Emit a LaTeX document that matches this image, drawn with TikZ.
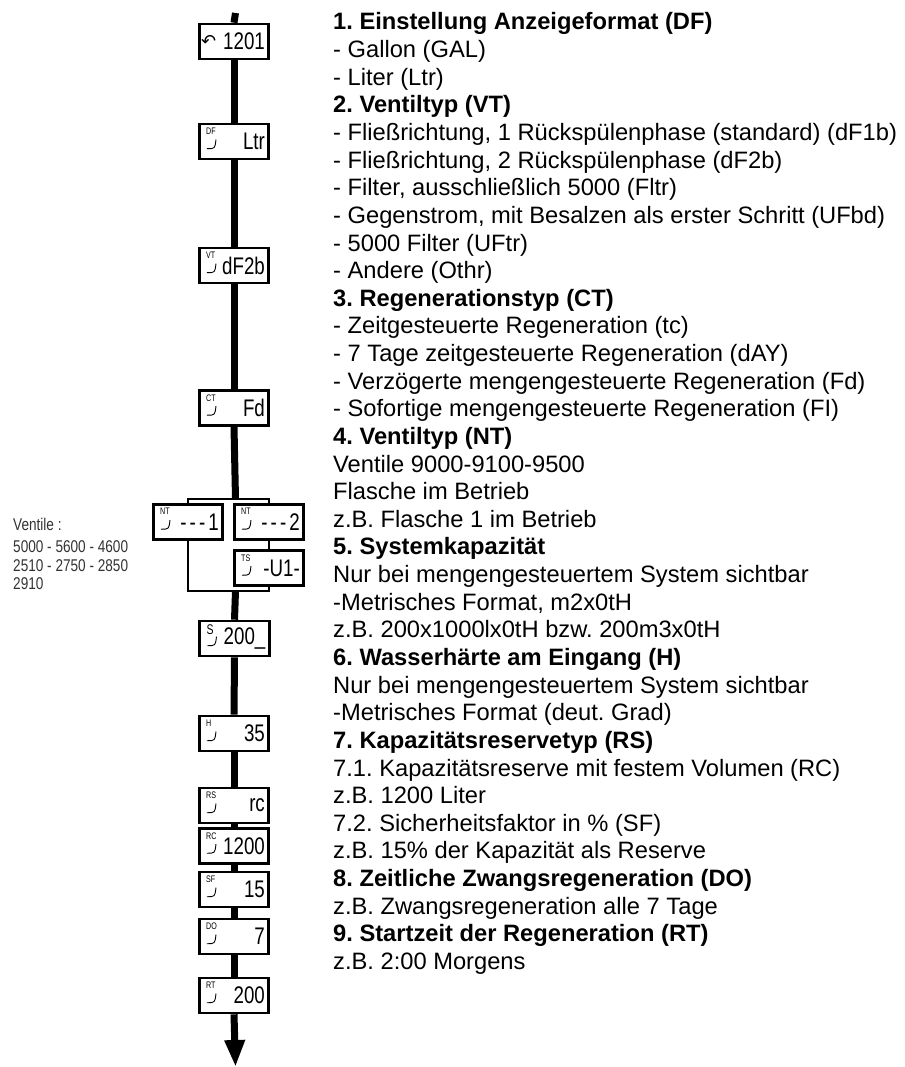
\documentclass[tikz,border=0pt]{standalone}
\usepackage{fontspec}
\usepackage{graphicx}
\setmainfont{Liberation Sans}
\newfontfamily\dejavu{DejaVu Sans}
\usetikzlibrary{arrows.meta}
\frenchspacing
\newcommand\lcd[5]{%
  \node[lcdbox] (#1) at (#2,#3) {};
  \node[lcdlab, anchor=north west] (#1l) at ([shift={(8,5)}]#1.north west) {\scalebox{0.75}[1]{#4}};
  \node[lcdval, anchor=east] (#1v) at ([xshift=-5pt]#1.east) {\scalebox{0.78}[1]{#5}};
  \draw[hookline] ([shift={(18,17)}]#1.north west) .. controls ([shift={(17,26)}]#1.north west) .. ([shift={(9,26)}]#1.north west);
}
\begin{document}
\begin{tikzpicture}[x=1pt,y=-1pt,
  trunk/.style={line width=7pt},
  brk/.style={line width=2.6pt},
  lcdbox/.style={draw, line width=2.6pt, fill=white, minimum width=69.5pt, minimum height=35pt, inner sep=0pt},
  lcdlab/.style={font=\fontsize{9.5}{9.5}\selectfont, inner sep=0pt},
  lcdval/.style={font=\fontsize{24}{24}\selectfont, inner sep=0pt},
  hookline/.style={line width=0.9pt},
  txt/.style={anchor=base west, inner sep=0pt, font=\fontsize{23.7}{27}\selectfont},
  vtxt/.style={anchor=base west, inner sep=0pt, text=black!80, font=\fontsize{17}{17}\selectfont}
  ]
\fill[white] (0,0) rectangle (904,1067);
\useasboundingbox (0,0) rectangle (904,1067);

% ---- displays ----
\node[lcdbox] (b1) at (234,41.5) {};
\node[anchor=west, inner sep=0pt, font=\dejavu\fontsize{18}{18}\selectfont] (b1l) at ([xshift=3pt]b1.west) {↶};
\node[lcdval, anchor=east] (b1v) at ([xshift=-5pt]b1.east) {\scalebox{0.78}[1]{1201}};

\lcd{b2}{234}{141.5}{DF}{Ltr}
\lcd{b3}{234}{265.5}{VT}{dF2b}
\lcd{b4}{234}{408}{CT}{Fd}
\lcd{nt1}{188}{522}{NT}{-\,-\,-\,1}
\lcd{nt2}{269}{522}{NT}{-\,-\,-\,2}
\lcd{ts}{269}{568}{TS}{-U1-}
\lcd{s}{234.5}{638.5}{\fontsize{14}{14}\selectfont S}{200\_}
\lcd{h}{234}{733.5}{H}{35}
\lcd{rs}{234}{805.5}{RS}{rc}
\lcd{rc}{234}{846}{RC}{1200}
\lcd{sf}{234}{889.5}{SF}{15}
\lcd{do}{234}{936.5}{DO}{7}
\lcd{rt}{234}{995.5}{RT}{200}

% ---- connectors ----
\coordinate (top) at (235.5,13);
\coordinate (split) at (235.5,499);
\coordinate (splitL) at (188,499);
\coordinate (splitR) at (269,499);
\coordinate (join) at (235.5,591);
\coordinate (joinL) at (188,591);
\coordinate (joinR) at (269,591);
\coordinate (end) at (235.5,1067);

\draw[trunk] (top) -- (b1.north);
\draw[trunk] (b1.south) -- (b2.north);
\draw[trunk] (b2.south) -- (b3.north);
\draw[trunk] (b3.south) -- (b4.north);
\draw[trunk] (b4.south) -- (split);
\draw[brk] (nt1.north) -- (splitL) -- (splitR) -- (nt2.north);
\draw[brk] (nt2.south) -- (ts.north);
\draw[brk] (nt1.south) -- (joinL) -- (joinR) -- (ts.south);
\draw[trunk] (join) -- (s.north);
\draw[trunk] (s.south) -- (h.north);
\draw[trunk] (h.south) -- (rs.north);
\draw[trunk] (rs.south) -- (rc.north);
\draw[trunk] (rc.south) -- (sf.north);
\draw[trunk] (sf.south) -- (do.north);
\draw[trunk] (do.south) -- (rt.north);
\draw[trunk, -{Triangle[width=19pt,length=27pt]}] (rt.south) -- (end);

% ---- left note ----
\node[vtxt] (v1) at (13,530) {\scalebox{0.8}[1]{Ventile :}};
\node[vtxt] (v2) at (13,552) {\scalebox{0.8}[1]{5000 - 5600 - 4600}};
\node[vtxt] (v3) at (13,571) {\scalebox{0.8}[1]{2510 - 2750 - 2850}};
\node[vtxt] (v4) at (13,589) {\scalebox{0.8}[1]{2910}};

% ---- right text ----
\foreach \t [count=\i] in {
 {\textbf{1. Einstellung Anzeigeformat (DF)}},
 {- Gallon (GAL)},
 {- Liter (Ltr)},
 {\textbf{2. Ventiltyp (VT)}},
 {- Fließrichtung, 1 Rückspülenphase (standard) (dF1b)},
 {- Fließrichtung, 2 Rückspülenphase (dF2b)},
 {- Filter, ausschließlich 5000 (Fltr)},
 {- Gegenstrom, mit Besalzen als erster Schritt (UFbd)},
 {- 5000 Filter (UFtr)},
 {- Andere (Othr)},
 {\textbf{3. Regenerationstyp (CT)}},
 {- Zeitgesteuerte Regeneration (tc)},
 {- 7 Tage zeitgesteuerte Regeneration (dAY)},
 {- Verzögerte mengengesteuerte Regeneration (Fd)},
 {- Sofortige mengengesteuerte Regeneration (FI)},
 {\textbf{4. Ventiltyp (NT)}},
 {Ventile 9000-9100-9500},
 {Flasche im Betrieb},
 {z.B. Flasche 1 im Betrieb},
 {\textbf{5. Systemkapazität}},
 {Nur bei mengengesteuertem System sichtbar},
 {-Metrisches Format, m2x0tH},
 {z.B. 200x1000lx0tH bzw. 200m3x0tH},
 {\textbf{6. Wasserhärte am Eingang (H)}},
 {Nur bei mengengesteuertem System sichtbar},
 {-Metrisches Format (deut. Grad)},
 {\textbf{7. Kapazitätsreservetyp (RS)}},
 {7.1. Kapazitätsreserve mit festem Volumen (RC)},
 {z.B. 1200 Liter},
 {7.2. Sicherheitsfaktor in \% (SF)},
 {z.B. 15\% der Kapazität als Reserve},
 {\textbf{8. Zeitliche Zwangsregeneration (DO)}},
 {z.B. Zwangsregeneration alle 7 Tage},
 {\textbf{9. Startzeit der Regeneration (RT)}},
 {z.B. 2:00 Morgens}
}{\node[txt] (t\i) at (333,{30+27.63*(\i-1)}) {\t};}
\end{tikzpicture}
\end{document}
